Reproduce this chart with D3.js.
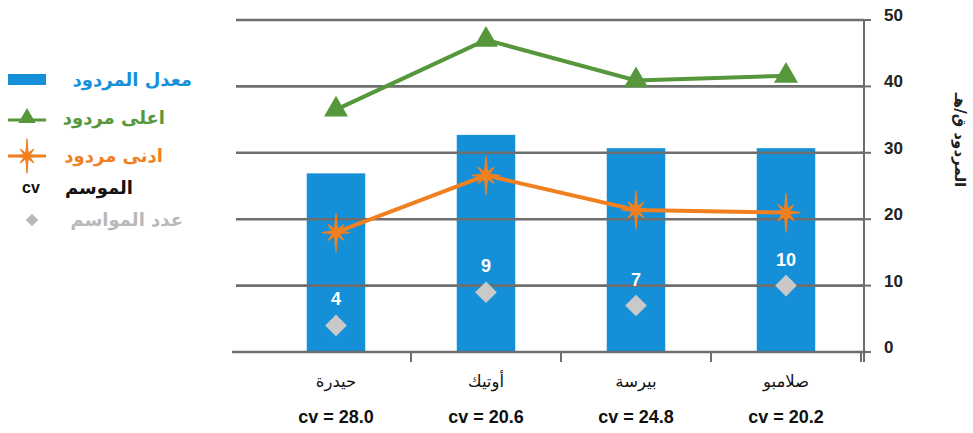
<!DOCTYPE html>
<html>
<head>
<meta charset="utf-8">
<script src="https://cdn.jsdelivr.net/npm/d3@7"></script>
<style>
  html, body { margin: 0; padding: 0; background: #fff; }
  svg { display: block; }
</style>
</head>
<body>
<svg id="chart" width="973" height="433"></svg>
<script>
// Sites, yields (q/ha), number of seasons and coefficient of variation
const categories = ["حيدرة", "أوتيك", "بيرسة", "صلامبو"];
const meanYield = [26.9, 32.7, 30.7, 30.7];
const maxYield = [36.5, 47.0, 40.9, 41.6];
const minYield = [18.0, 26.6, 21.4, 21.0];
const seasonCount = [4, 9, 7, 10];
const cvValues = ["28.0", "20.6", "24.8", "20.2"];
const yTicks = [0, 10, 20, 30, 40, 50];
const axisTitle = "المردود ق/هـ";

const legendItems = [
  { key: "bar", label: "معدل المردود", color: "#1590d8", right: 192 },
  { key: "max", label: "اعلى مردود", color: "#55973a", right: 165 },
  { key: "min", label: "ادنى مردود", color: "#f08020", right: 163 },
  { key: "cv", label: "الموسم", color: "#111111", right: 133 },
  { key: "n", label: "عدد المواسم", color: "#b8b8b8", right: 183 }
];

const BLUE = "#1590d8", GREEN = "#55973a", ORANGE = "#f08020", DIAMOND = "#c9c9c9", GRID = "#6e6e6e";
const arFont = "'DejaVu Sans', sans-serif";
const numFont = "'Liberation Sans', Arial, sans-serif";

const svg = d3.select("#chart");

const x = d3.scaleBand().domain(categories).range([261, 861]).paddingInner(0.61).paddingOuter(0.305);
const y = d3.scaleLinear().domain([0, 50]).range([352, 20]);
const cx = c => x(c) + x.bandwidth() / 2;

// Bars: mean yield
svg.append("g").selectAll("rect").data(categories).join("rect")
  .attr("x", d => x(d)).attr("width", x.bandwidth())
  .attr("y", (d, i) => y(meanYield[i]))
  .attr("height", (d, i) => y(0) - y(meanYield[i]))
  .attr("fill", BLUE);

// Horizontal gridlines drawn over the bars
svg.append("g").selectAll("line").data(yTicks.filter(t => t > 0)).join("line")
  .attr("x1", 236).attr("x2", 864)
  .attr("y1", d => y(d)).attr("y2", d => y(d))
  .attr("stroke", GRID).attr("stroke-width", 2.6);

// Bottom category axis
const xAxis = svg.append("g").attr("transform", `translate(0,${y(0)})`);
xAxis.append("line").attr("x1", 232).attr("x2", 866).attr("y1", 0).attr("y2", 0)
  .attr("stroke", GRID).attr("stroke-width", 2.6);
xAxis.selectAll("line.tick").data(categories).join("line").attr("class", "tick")
  .attr("x1", d => x(d) + x.step() - (x.step() - x.bandwidth()) / 2)
  .attr("x2", d => x(d) + x.step() - (x.step() - x.bandwidth()) / 2)
  .attr("y1", 0).attr("y2", 10)
  .attr("stroke", GRID).attr("stroke-width", 2);

// Category names and cv values
svg.append("g").selectAll("text").data(categories).join("text")
  .attr("x", d => cx(d)).attr("y", 387)
  .attr("text-anchor", "middle").attr("font-family", arFont)
  .attr("font-size", 16.5).attr("fill", "#111").text(d => d);
svg.append("g").selectAll("text").data(cvValues).join("text")
  .attr("x", (d, i) => cx(categories[i])).attr("y", 423)
  .attr("text-anchor", "middle").attr("font-family", numFont)
  .attr("font-weight", "bold").attr("font-size", 18).attr("fill", "#111")
  .text(d => "cv = " + d);

// Right value axis
const yAxisG = svg.append("g").attr("transform", "translate(864,0)");
yAxisG.append("line").attr("x1", 0).attr("x2", 0).attr("y1", y(50)).attr("y2", y(0) + 10)
  .attr("stroke", GRID).attr("stroke-width", 2);
yAxisG.selectAll("line.tick").data(yTicks).join("line").attr("class", "tick")
  .attr("x1", -4).attr("x2", 7).attr("y1", d => y(d)).attr("y2", d => y(d))
  .attr("stroke", GRID).attr("stroke-width", 2);
yAxisG.selectAll("text").data(yTicks).join("text")
  .attr("x", 20).attr("y", d => y(d) + 1)
  .attr("font-family", numFont).attr("font-weight", "bold").attr("font-size", 17)
  .attr("fill", "#222").text(d => d);
svg.append("text")
  .attr("transform", "translate(955,140) rotate(90)")
  .attr("text-anchor", "middle").attr("font-family", arFont).attr("font-weight", "bold")
  .attr("font-size", 15).attr("fill", "#222").text(axisTitle);

// Star marker path (longer vertical spikes)
function starPath(s) {
  const pts = [];
  const radii = [19, 11, 14, 11, 19, 11, 14, 11];
  for (let k = 0; k < 16; k++) {
    const a = -Math.PI / 2 + k * Math.PI / 8;
    const r = k % 2 === 0 ? radii[k / 2] * s : 3.6 * s;
    pts.push([r * Math.cos(a), r * Math.sin(a)]);
  }
  return "M" + pts.map(p => p.join(",")).join("L") + "Z";
}

// Minimum yield line
const line = d3.line().x(d => cx(d[0])).y(d => y(d[1]));
svg.append("path").datum(categories.map((c, i) => [c, minYield[i]]))
  .attr("d", line).attr("fill", "none").attr("stroke", ORANGE).attr("stroke-width", 4);
svg.append("g").selectAll("path").data(categories).join("path")
  .attr("transform", (d, i) => `translate(${cx(d)},${y(minYield[i])})`)
  .attr("d", starPath(1)).attr("fill", ORANGE).attr("stroke", ORANGE).attr("stroke-width", 1.2)
  .attr("stroke-linejoin", "round");

// Maximum yield line
svg.append("path").datum(categories.map((c, i) => [c, maxYield[i]]))
  .attr("d", line).attr("fill", "none").attr("stroke", GREEN).attr("stroke-width", 4);
const tri = d3.symbol().type(d3.symbolTriangle).size(250);
svg.append("g").selectAll("path").data(categories).join("path")
  .attr("transform", (d, i) => `translate(${cx(d)},${y(maxYield[i])})`)
  .attr("d", tri).attr("fill", GREEN);

// Number of seasons: diamonds and labels
const diamond = d3.symbol().type(d3.symbolDiamond2).size(300);
svg.append("g").selectAll("path").data(categories).join("path")
  .attr("transform", (d, i) => `translate(${cx(d)},${y(seasonCount[i])})`)
  .attr("d", diamond).attr("fill", DIAMOND);
svg.append("g").selectAll("text").data(seasonCount).join("text")
  .attr("x", (d, i) => cx(categories[i])).attr("y", d => y(d) - 20)
  .attr("text-anchor", "middle").attr("font-family", numFont).attr("font-weight", "bold")
  .attr("font-size", 18).attr("fill", "#fff").text(d => d);

// Legend
const lg = svg.append("g");
const rowY = [80, 118, 156, 188, 220];
legendItems.forEach((it, i) => {
  const yy = rowY[i];
  lg.append("text").attr("x", it.right).attr("y", yy + 6).attr("text-anchor", "end")
    .attr("font-family", arFont).attr("font-weight", "bold").attr("font-size", 18)
    .attr("fill", it.color).text(it.label);
  if (it.key === "bar") {
    lg.append("rect").attr("x", 8).attr("y", yy - 6).attr("width", 38).attr("height", 11).attr("fill", it.color);
  } else if (it.key === "max") {
    lg.append("line").attr("x1", 8).attr("x2", 46).attr("y1", yy + 2).attr("y2", yy + 2)
      .attr("stroke", it.color).attr("stroke-width", 3);
    lg.append("path").attr("transform", `translate(27,${yy})`)
      .attr("d", d3.symbol().type(d3.symbolTriangle).size(130)).attr("fill", it.color);
  } else if (it.key === "min") {
    lg.append("line").attr("x1", 8).attr("x2", 46).attr("y1", yy).attr("y2", yy)
      .attr("stroke", it.color).attr("stroke-width", 3);
    lg.append("path").attr("transform", `translate(27,${yy})`)
      .attr("d", starPath(0.9)).attr("fill", it.color).attr("stroke", it.color);
  } else if (it.key === "cv") {
    lg.append("text").attr("x", 22).attr("y", yy + 5)
      .attr("font-family", numFont).attr("font-weight", "bold").attr("font-size", 16)
      .attr("fill", "#111").text("cv");
  } else {
    lg.append("path").attr("transform", `translate(32,${yy})`)
      .attr("d", d3.symbol().type(d3.symbolDiamond2).size(100)).attr("fill", it.color);
  }
});
</script>
</body>
</html>
